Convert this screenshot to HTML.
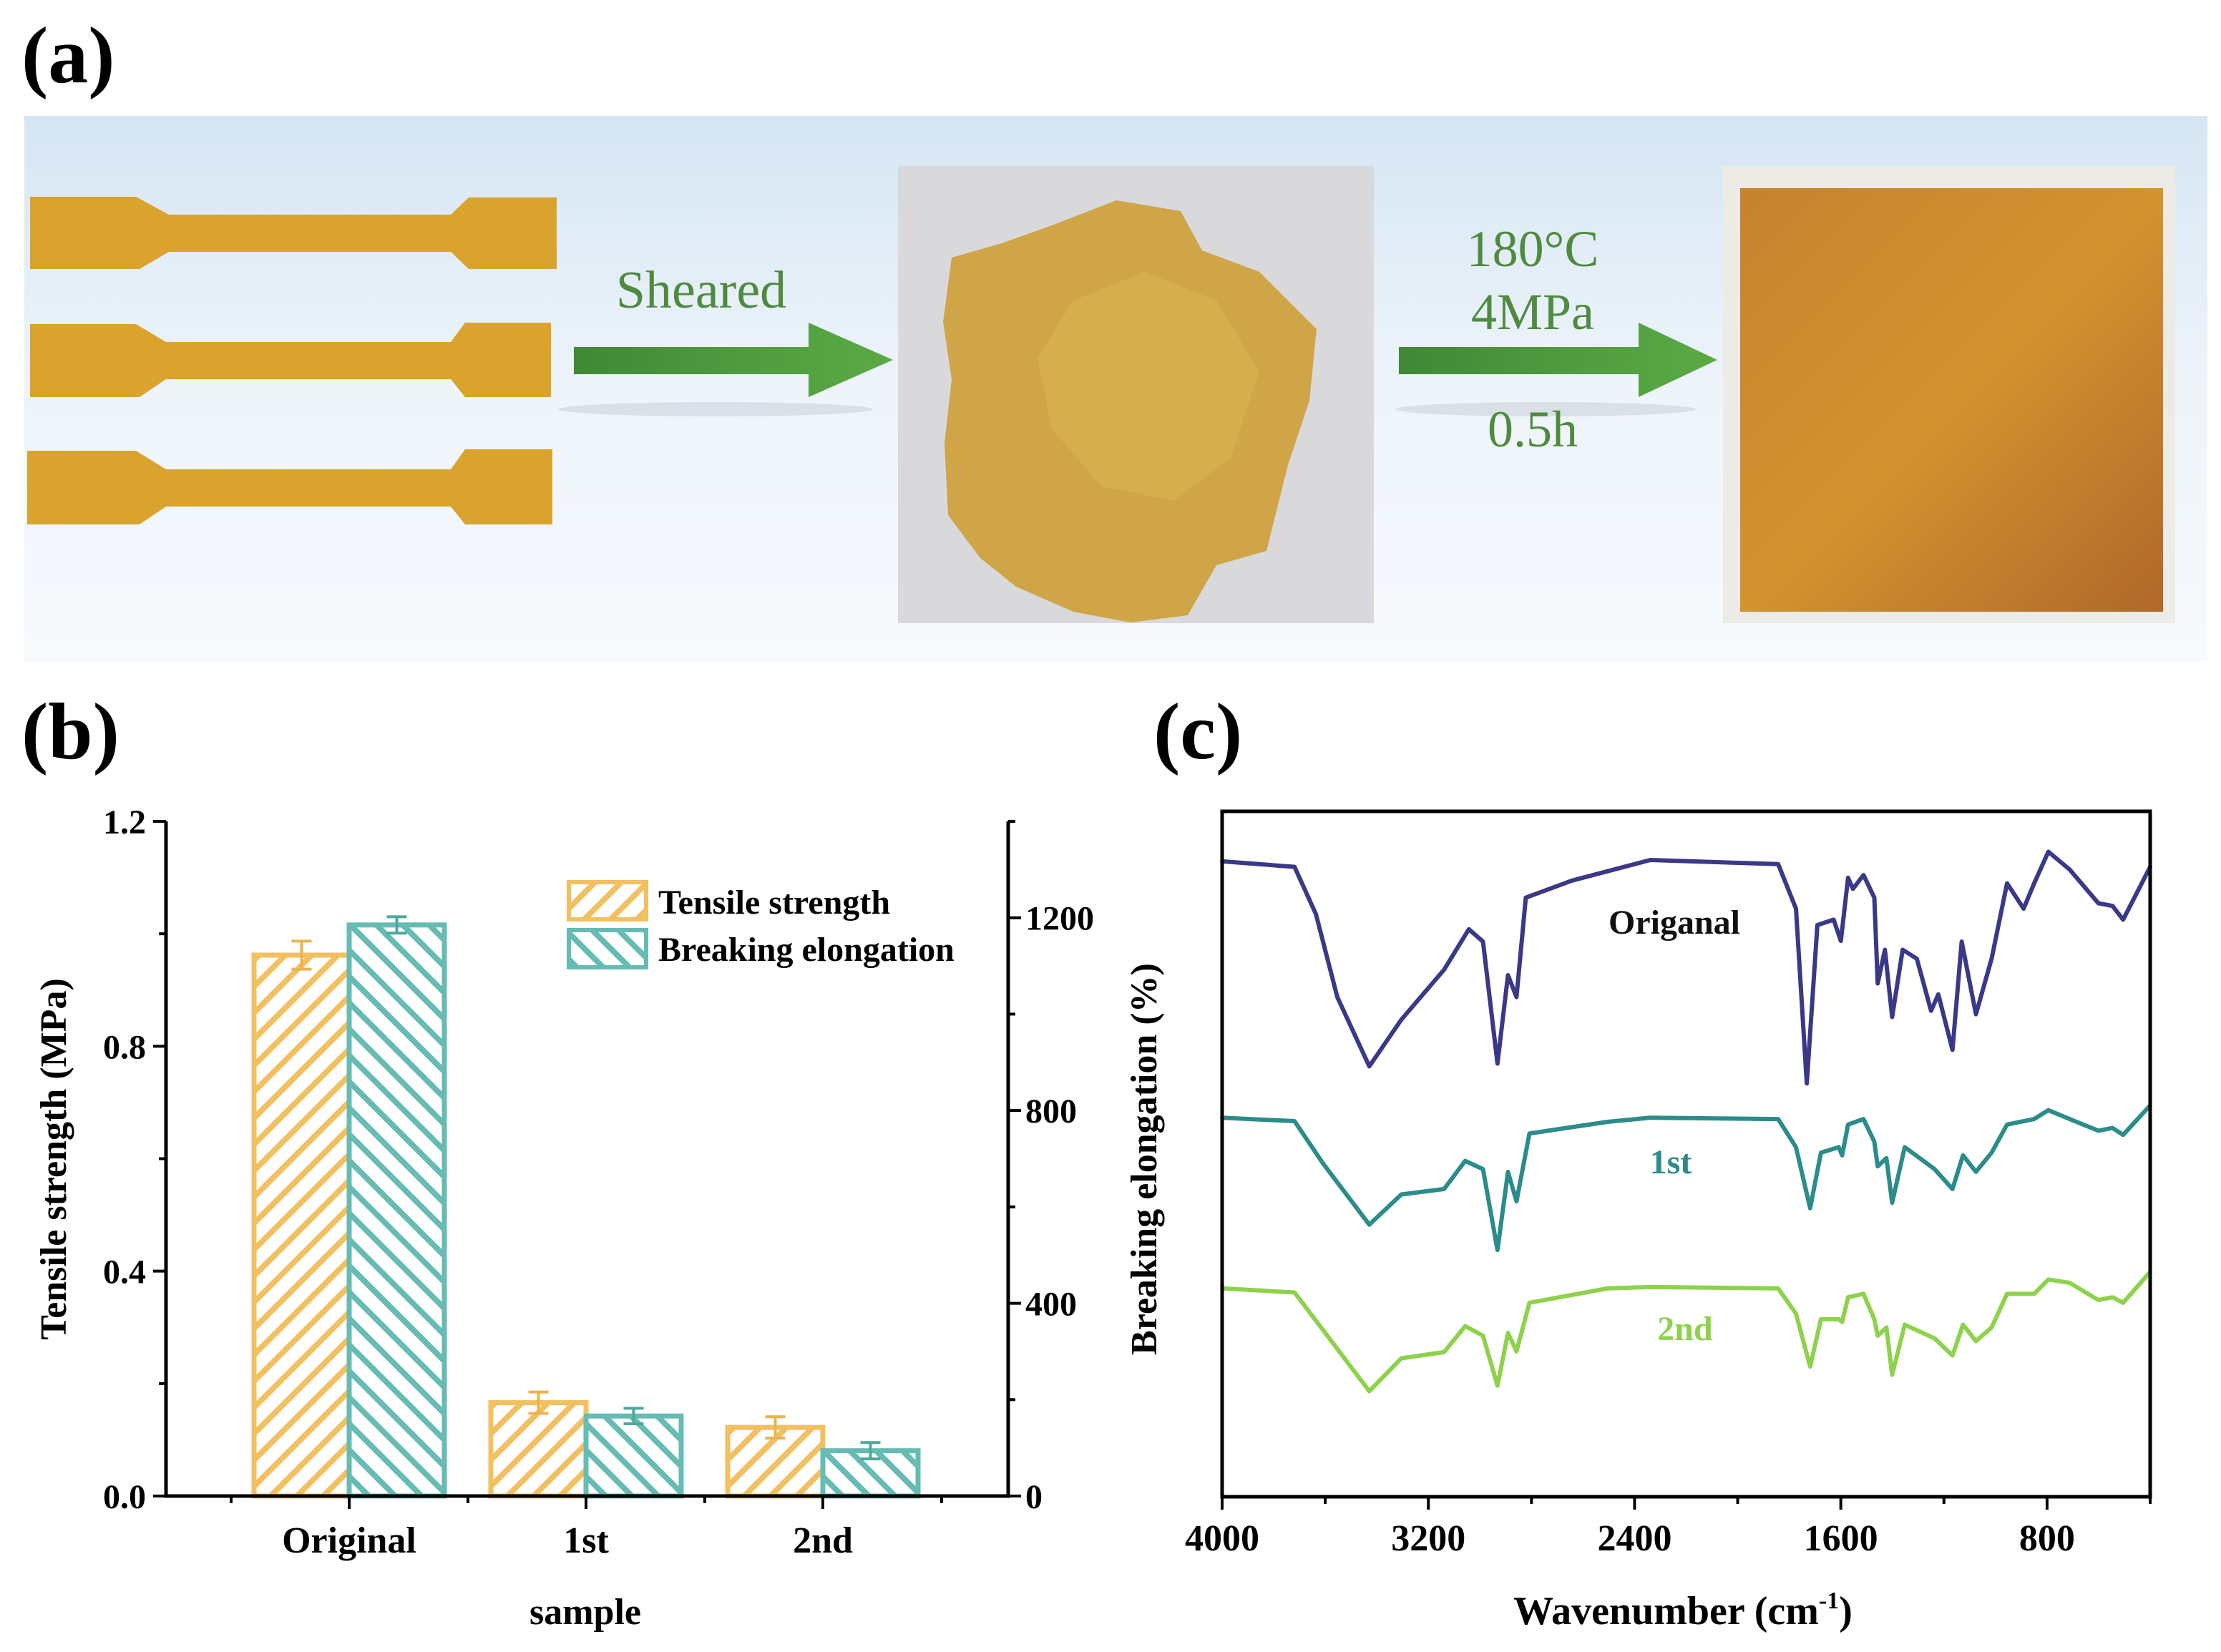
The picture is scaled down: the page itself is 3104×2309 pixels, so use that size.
<!DOCTYPE html>
<html><head><meta charset="utf-8"><style>
html,body{margin:0;padding:0;background:#fff}
svg{display:block}
text{font-family:"Liberation Serif","DejaVu Serif",serif}
</style></head><body>
<svg id="fig" width="3104" height="2309" viewBox="0 0 3104 2309" xmlns="http://www.w3.org/2000/svg">
<defs>
<linearGradient id="bgGrad" x1="0" y1="0" x2="0" y2="1">
<stop offset="0" stop-color="#d6e6f4"/><stop offset="0.5" stop-color="#eef4fa"/><stop offset="1" stop-color="#f7fafd"/>
</linearGradient>
<linearGradient id="arrowGrad" x1="0" y1="0" x2="1" y2="0">
<stop offset="0" stop-color="#3f8836"/><stop offset="0.5" stop-color="#4f9a3e"/><stop offset="1" stop-color="#5aaa45"/>
</linearGradient>
<linearGradient id="sheetGrad" x1="0" y1="0" x2="1" y2="1">
<stop offset="0" stop-color="#c4832f"/><stop offset="0.5" stop-color="#d2942f"/><stop offset="1" stop-color="#b0682a"/>
</linearGradient>
<pattern id="hatchOrange" patternUnits="userSpaceOnUse" width="26" height="26" patternTransform="rotate(45)">
<rect width="26" height="26" fill="#fff"/><rect x="0" y="0" width="8" height="26" fill="#f2c060"/>
</pattern>
<pattern id="hatchTeal" patternUnits="userSpaceOnUse" width="26" height="26" patternTransform="rotate(-45)">
<rect width="26" height="26" fill="#fff"/><rect x="0" y="0" width="8" height="26" fill="#66bcb3"/>
</pattern>
</defs>

<!-- Panel a -->
<text x="30" y="115" font-size="112" font-weight="bold">(a)</text>
<rect x="34" y="162" width="3051" height="763" fill="url(#bgGrad)"/>
<g fill="#d9a32e">
<path d="M42 275 H190 L236 300 H630 L655 276 H778 V376 H655 L630 352 H236 L195 376 H42 Z"/>
<path d="M42 453 H190 L232 478 H630 L650 451 H770 V555 H650 L630 530 H232 L195 555 H42 Z"/>
<path d="M38 630 H190 L232 656 H630 L650 628 H772 V733 H650 L630 708 H232 L195 733 H38 Z"/>
</g>
<ellipse cx="1000" cy="572" rx="220" ry="10" fill="#d4dbe2" opacity="0.8"/>
<ellipse cx="2160" cy="572" rx="210" ry="10" fill="#d4dbe2" opacity="0.8"/>
<g><path d="M802 485 H1130 V451 L1248 503 L1130 555 V523 H802 Z" fill="url(#arrowGrad)"/></g>
<text x="980" y="430" font-size="74" fill="#4f8a3f" text-anchor="middle">Sheared</text>
<rect x="1255" y="232" width="665" height="639" fill="#d9d9db"/>
<path d="M1330 360 L1400 340 L1470 315 L1560 280 L1650 295 L1680 350 L1760 380 L1840 460 L1830 560 L1800 650 L1770 770 L1700 790 L1660 860 L1580 870 L1500 855 L1420 820 L1370 780 L1325 720 L1320 620 L1330 530 L1318 450 Z" fill="#cfa548"/>
<path d="M1500 420 L1600 380 L1700 420 L1760 520 L1720 640 L1640 700 L1540 680 L1470 600 L1450 500 Z" fill="#d8b04e" opacity="0.8"/>
<g><path d="M1955 485 H2290 V451 L2400 503 L2290 555 V523 H1955 Z" fill="url(#arrowGrad)"/></g>
<text x="2142" y="372" font-size="72" fill="#4f8a3f" text-anchor="middle">180°C</text>
<text x="2142" y="460" font-size="72" fill="#4f8a3f" text-anchor="middle">4MPa</text>
<text x="2142" y="624" font-size="72" fill="#4f8a3f" text-anchor="middle">0.5h</text>
<rect x="2408" y="232" width="632" height="639" fill="#ecebe6"/>
<rect x="2432" y="263" width="591" height="592" fill="url(#sheetGrad)"/>

<!-- Panel b -->
<text x="30" y="1060" font-size="112" font-weight="bold">(b)</text>
<g id="chartB"></g>

<!-- Panel c -->
<text x="1612" y="1060" font-size="112" font-weight="bold">(c)</text>
<g id="chartC"></g>
</svg>
<script>
const categories = ["Original", "1st", "2nd"];
const tensileValues = [0.962, 0.166, 0.122];
const tensileErrors = [0.025, 0.019, 0.019];
const elongationValues = [1185, 166, 94];
const elongationErrors = [17, 16, 17];
const leftTicks = [0.0, 0.4, 0.8, 1.2];
const leftTickLabels = ["0.0", "0.4", "0.8", "1.2"];
const rightTicks = [0, 400, 800, 1200];
const rightTickLabels = ["0", "400", "800", "1200"];

const wnOriginal = [4000,3719,3636,3553,3429,3305,3139,3043,2988,2932,2891,2858,2822,2643,2339,1843,1774,1732,1691,1628,1600,1572,1553,1512,1470,1457,1429,1401,1360,1305,1250,1222,1167,1131,1076,1015,955,891,850,795,712,601,546,505,400];
const tOriginal = [92.7,91.9,85.0,72.9,62.8,69.6,76.9,82.8,81.0,63.2,76.1,72.9,87.4,89.9,92.9,92.3,85.8,60.3,83.4,84.2,81.1,90.3,88.7,90.7,87.4,74.9,79.8,70.0,79.8,78.5,70.9,73.3,65.2,81.0,70.4,78.5,89.5,85.8,89.5,94.1,91.5,86.6,86.2,84.2,91.9];
const wnFirst = [4000,3719,3608,3429,3305,3139,3057,2988,2932,2891,2858,2808,2505,2339,1843,1774,1719,1677,1608,1595,1572,1512,1470,1457,1423,1401,1352,1236,1167,1126,1076,1015,955,850,795,712,601,546,505,400];
const tFirst = [55.3,54.8,48.6,39.7,44.1,44.9,49.0,47.8,36.0,47.4,43.1,53.0,54.7,55.3,55.1,51.0,42.1,50.2,51.0,49.8,54.3,55.1,51.8,48.2,49.4,42.9,51.0,47.8,44.9,49.8,47.4,50.2,54.3,55.1,56.4,55.1,53.4,53.8,52.8,57.1];
const wnSecond = wnFirst;
const tSecond = [30.4,29.8,24.3,15.4,20.2,21.1,24.9,23.5,16.2,23.9,21.2,28.3,30.4,30.6,30.4,26.7,19.0,25.9,25.9,25.5,29.1,29.6,25.9,23.5,24.7,17.8,25.1,23.1,20.6,25.1,22.7,24.7,29.6,29.6,31.7,31.2,28.7,29.1,28.3,32.8];
const wnTicks = [4000, 3200, 2400, 1600, 800];
const wnTickLabels = ["4000", "3200", "2400", "1600", "800"];

const NS = "http://www.w3.org/2000/svg";
function mk(parent, tag, attrs, text) {
  const el = document.createElementNS(NS, tag);
  for (const k in attrs) el.setAttribute(k, attrs[k]);
  if (text !== undefined) el.textContent = text;
  parent.appendChild(el);
  return el;
}

// ---- Chart B ----
(function(){
  const g = document.getElementById("chartB");
  const L = 232, R = 1409, T = 1148, B = 2091;
  const yL = v => B - v / 1.2 * (B - T);
  const yR = v => B - v / 1400 * (B - T);
  const xC = i => 488 + i * 331;
  const bw = 133;
  for (let i = 0; i < categories.length; i++) {
    const x0 = xC(i) - bw, y0 = yL(tensileValues[i]);
    const b1 = mk(g, "rect", {x: x0, y: y0, width: bw, height: B - y0, fill: "url(#hatchOrange)", stroke: "#f2c060", "stroke-width": 7});
    
    
    const x1 = xC(i), y1 = yR(elongationValues[i]);
    const b2 = mk(g, "rect", {x: x1, y: y1, width: bw, height: B - y1, fill: "url(#hatchTeal)", stroke: "#66bcb3", "stroke-width": 7});
    
    
    const e1x = x0 + bw / 2, e1t = yL(tensileValues[i] + tensileErrors[i]), e1b = yL(tensileValues[i] - tensileErrors[i]);
    const eb1 = mk(g, "path", {d: `M${e1x} ${e1t} V${e1b} M${e1x-14} ${e1t} H${e1x+14} M${e1x-14} ${e1b} H${e1x+14}`, stroke: "#e8b450", "stroke-width": 4, fill: "none"});
    
    
    const e2x = x1 + bw / 2, e2t = yR(elongationValues[i] + elongationErrors[i]), e2b = yR(elongationValues[i] - elongationErrors[i]);
    const eb2 = mk(g, "path", {d: `M${e2x} ${e2t} V${e2b} M${e2x-14} ${e2t} H${e2x+14} M${e2x-14} ${e2b} H${e2x+14}`, stroke: "#4fa89f", "stroke-width": 4, fill: "none"});
    
    
    const cl = mk(g, "text", {x: xC(i), y: 2170, "font-size": 52, "font-weight": "bold", "text-anchor": "middle"}, categories[i]);
    
    
    mk(g, "line", {x1: xC(i), y1: B, x2: xC(i), y2: B + 18, stroke: "#000", "stroke-width": 4});
  }
  for (let k = 0; k < 4; k++) {
    const mx = xC(k) - 165;
    mk(g, "line", {x1: mx, y1: B, x2: mx, y2: B + 10, stroke: "#000", "stroke-width": 4});
  }
  for (let i = 0; i < leftTicks.length; i++) {
    const y = yL(leftTicks[i]);
    mk(g, "line", {x1: L - 18, y1: y, x2: L, y2: y, stroke: "#000", "stroke-width": 4});
    const t = mk(g, "text", {x: L - 28, y: y + 17, "font-size": 48, "font-weight": "bold", "text-anchor": "end"}, leftTickLabels[i]);
    
    
    if (i < leftTicks.length - 1) {
      const ym = yL(leftTicks[i] + 0.2);
      mk(g, "line", {x1: L - 10, y1: ym, x2: L, y2: ym, stroke: "#000", "stroke-width": 4});
    }
  }
  for (let i = 0; i < rightTicks.length; i++) {
    const y = yR(rightTicks[i]);
    mk(g, "line", {x1: R, y1: y, x2: R + 18, y2: y, stroke: "#000", "stroke-width": 4});
    const t = mk(g, "text", {x: R + 24, y: y + 17, "font-size": 48, "font-weight": "bold"}, rightTickLabels[i]);
    
    
    const ym = yR(rightTicks[i] + 200);
    mk(g, "line", {x1: R, y1: ym, x2: R + 10, y2: ym, stroke: "#000", "stroke-width": 4});
  }
  const ax = mk(g, "path", {d: `M${L} ${T} V${B} H${R} V${T}`, stroke: "#000", "stroke-width": 5, fill: "none"});
  
  
  const yt = mk(g, "text", {x: 0, y: 0, "font-size": 52, "font-weight": "bold", "text-anchor": "middle", transform: "translate(92 1620) rotate(-90)"}, "Tensile strength (MPa)");
  
  
  const yt2 = mk(g, "text", {x: 0, y: 0, "font-size": 52, "font-weight": "bold", "text-anchor": "middle", transform: "translate(1616 1620) rotate(-90)"}, "Breaking elongation (%)");
  
  
  const xt = mk(g, "text", {x: 818, y: 2270, "font-size": 52, "font-weight": "bold", "text-anchor": "middle"}, "sample");
  
  
  const lg = mk(g, "g", {});
  
  
  const s1 = mk(lg, "rect", {x: 795, y: 1233, width: 108, height: 52, fill: "url(#hatchOrange)", stroke: "#f2c060", "stroke-width": 6});
  
  
  const s2 = mk(lg, "rect", {x: 795, y: 1300, width: 108, height: 52, fill: "url(#hatchTeal)", stroke: "#66bcb3", "stroke-width": 6});
  
  
  mk(lg, "text", {x: 920, y: 1277, "font-size": 48, "font-weight": "bold"}, "Tensile strength");
  mk(lg, "text", {x: 920, y: 1343, "font-size": 48, "font-weight": "bold"}, "Breaking elongation");
})();

// ---- Chart C ----
(function(){
  const g = document.getElementById("chartC");
  const L = 1708, R = 3005, T = 1134, B = 2092;
  const xW = w => L + (4000 - w) / 3600 * (R - L);
  const yV = v => B - v / 100 * (B - T);
  function series(wn, tv, color, name) {
    let d = "";
    for (let i = 0; i < wn.length; i++) d += (i ? "L" : "M") + xW(wn[i]).toFixed(1) + " " + yV(tv[i]).toFixed(1);
    const p = mk(g, "path", {d: d, stroke: color, "stroke-width": 6, fill: "none", "stroke-linejoin": "round", "stroke-linecap": "round"});
    
    
  }
  series(wnOriginal, tOriginal, "#3b3887", "original-spectrum");
  series(wnFirst, tFirst, "#2b8c8a", "first-spectrum");
  series(wnSecond, tSecond, "#8ed24c", "second-spectrum");
  for (let i = 0; i < wnTicks.length; i++) {
    const x = xW(wnTicks[i]);
    mk(g, "line", {x1: x, y1: B, x2: x, y2: B + 18, stroke: "#000", "stroke-width": 4});
    const t = mk(g, "text", {x: x, y: 2167, "font-size": 52, "font-weight": "bold", "text-anchor": "middle"}, wnTickLabels[i]);
    
    
    const xm = xW(wnTicks[i] - 400);
    mk(g, "line", {x1: xm, y1: B, x2: xm, y2: B + 10, stroke: "#000", "stroke-width": 4});
  }
  const ax = mk(g, "rect", {x: L, y: T, width: R - L, height: B - T, stroke: "#000", "stroke-width": 5, fill: "none"});
  
  
  const l1 = mk(g, "text", {x: 2340, y: 1305, "font-size": 48, "font-weight": "bold", "text-anchor": "middle", fill: "#111"}, "Origanal");
  
  
  const l2 = mk(g, "text", {x: 2335, y: 1640, "font-size": 48, "font-weight": "bold", "text-anchor": "middle", fill: "#2b8c8a"}, "1st");
  
  
  const l3 = mk(g, "text", {x: 2355, y: 1873, "font-size": 48, "font-weight": "bold", "text-anchor": "middle", fill: "#8ed24c"}, "2nd");
  
  
  const xt = mk(g, "text", {x: 2352, y: 2270, "font-size": 56, "font-weight": "bold", "text-anchor": "middle"});
  
  
  xt.appendChild(document.createTextNode("Wavenumber (cm"));
  mk(xt, "tspan", {dy: -22, "font-size": 34}, "-1");
  mk(xt, "tspan", {dy: 22}, ")");
})();
</script>
</body></html>
